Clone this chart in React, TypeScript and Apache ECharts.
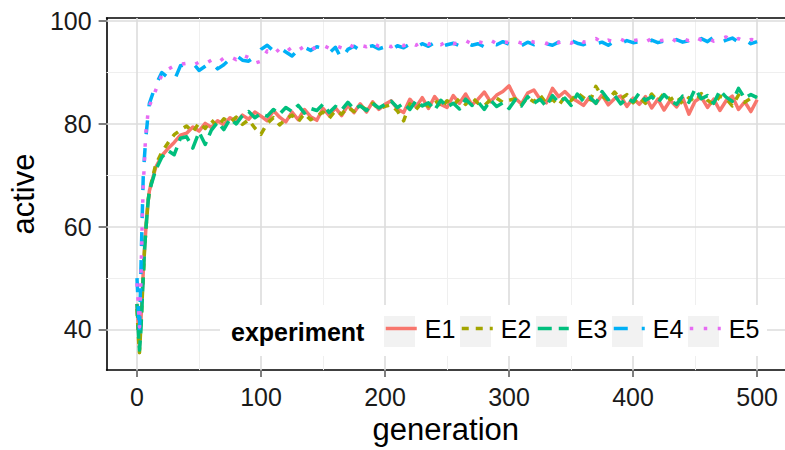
import React, { useEffect, useRef } from "react";
import * as echarts from "echarts";

// Generation index shared by every experiment (dense at the start, every 5 afterwards)
const generations = [
  0, 1, 2, 3, 4, 5, 6, 7, 8, 9, 10,
  15, 20, 25, 30, 35, 40, 45, 50, 55, 60, 65, 70, 75, 80, 85, 90, 95, 100,
  105, 110, 115, 120, 125, 130, 135, 140, 145, 150, 155, 160, 165, 170, 175, 180, 185, 190, 195, 200,
  205, 210, 215, 220, 225, 230, 235, 240, 245, 250, 255, 260, 265, 270, 275, 280, 285, 290, 295, 300,
  305, 310, 315, 320, 325, 330, 335, 340, 345, 350, 355, 360, 365, 370, 375, 380, 385, 390, 395, 400,
  405, 410, 415, 420, 425, 430, 435, 440, 445, 450, 455, 460, 465, 470, 475, 480, 485, 490, 495, 500,
];

const e1 = [
  45, 41, 36.5, 41, 46, 51, 55.5, 59, 62.5, 65, 67,
  71.5, 73.8, 75.2, 76.4, 77.8, 78.2, 79.4, 78.6, 80.1, 79.3, 80.6, 79.8, 81.2, 80.4, 81.7, 80.9, 82.3, 81.5,
  80.6, 82.6, 81.3, 80.4, 82.3, 80.8, 82.8, 81.4, 80.7, 83.0, 81.6, 83.1, 81.6, 83.6, 82.2, 83.9, 82.3, 84.3, 82.8, 83.8,
  84.5, 82.9, 82.2, 84.8, 83.3, 85.1, 83.0, 85.3, 83.8, 83.2, 85.5, 84.0, 85.8, 83.7, 84.8, 86.2, 84.3, 85.6, 86.3, 87.4,
  85.0, 83.9, 86.0, 86.6, 84.8, 84.1, 86.9, 85.3, 86.3, 85.1, 84.4, 83.6, 85.2, 84.0, 85.6, 83.7, 84.9, 85.4, 83.4, 85.0,
  83.8, 85.3, 83.1, 84.8, 82.7, 84.6, 83.3, 85.1, 81.9, 84.4, 85.2, 83.2, 84.8, 82.6, 84.5, 85.4, 82.8, 84.3, 82.4, 84.7,
];

const e2 = [
  44, 39, 35.5, 40, 45, 50, 55, 59, 62, 65, 67,
  72, 74.5, 76.3, 77.9, 78.8, 79.6, 78.4, 80.2, 79.1, 80.7, 79.5, 81.0, 80.3, 81.3, 79.9, 80.8, 79.2, 78.0,
  80.1, 81.2, 79.8, 80.9, 81.7, 80.4, 82.0, 80.8, 81.5, 82.3, 81.1, 82.6, 81.9, 83.2, 82.4, 83.5, 82.8, 84.0, 82.9, 83.4,
  83.7, 82.5, 80.6, 83.9, 82.8, 84.2, 83.4, 84.8, 83.1, 84.5, 83.6, 84.9, 83.8, 85.2, 84.0, 83.5, 84.7, 85.0, 84.2, 84.6,
  84.9, 83.7, 85.1, 84.3, 85.6, 84.0, 84.8, 83.6, 85.3, 84.5, 86.0, 85.1, 84.2, 87.3, 85.4, 84.6, 86.2, 84.9, 85.7, 84.1,
  85.2, 84.0, 85.8, 84.4, 86.0, 84.7, 85.5, 83.9, 85.1, 84.3, 85.9, 84.6, 83.8, 85.4, 84.9, 83.5, 85.6, 84.2, 85.0, 85.3,
];

const e3 = [
  45, 40, 36, 39, 44.5, 50, 55, 59, 62, 65, 67,
  71, 73.5, 74.8, 74.0, 77.2, 77.5, 75.3, 78.4, 76.0, 78.8, 80.3, 78.9, 81.0, 80.0, 81.6, 82.4, 81.2, 82.0,
  81.5, 82.8, 81.9, 83.2, 82.4, 83.6, 82.1, 83.0, 82.6, 83.8, 82.2, 83.4, 82.7, 84.2, 82.9, 83.5, 82.6, 84.0, 83.1, 83.8,
  84.4, 83.2, 84.0, 82.8, 84.5, 83.5, 84.1, 82.7, 84.6, 83.3, 84.0, 82.9, 84.8, 83.6, 84.3, 82.8, 84.6, 83.4, 84.1, 83.0,
  84.7, 83.5, 85.3, 84.0, 84.8, 83.4, 85.5, 84.2, 85.0, 83.6, 85.8, 84.4, 85.2, 84.0, 86.3, 84.7, 85.6, 83.9, 85.0, 84.3,
  86.0, 84.6, 85.3, 84.1, 85.7, 84.5, 83.8, 85.4, 84.2, 86.8, 84.9, 85.5, 84.0, 86.5, 85.2, 84.4, 86.9, 85.0, 85.7, 85.1,
];

const e4 = [
  50, 44.5, 39.5, 50, 60, 69.5, 73.5, 77, 79.5, 82, 84,
  87.5, 90.0, 89.0, 88.4, 91.3, 91.6, 91.9, 90.4, 91.2, 92.0, 90.7, 91.5, 92.6, 93.3, 92.4, 92.2, 93.1, 94.5,
  95.3, 94.2, 94.8, 94.0, 93.2, 94.4, 94.9, 94.3, 95.0, 94.7, 93.8, 94.9, 92.6, 94.5, 95.1, 94.3, 94.9, 95.2, 94.6, 95.0,
  94.4, 95.2, 94.8, 95.5, 94.9, 95.6, 95.1, 95.8, 95.0, 95.4, 95.7, 95.2, 95.9, 95.3, 95.6, 95.0, 95.8, 95.4, 96.0, 95.5,
  95.8, 95.2, 95.9, 95.4, 96.1, 95.6, 95.3, 95.9, 95.5, 96.2, 95.7, 95.4, 96.0, 95.6, 95.9, 95.3, 96.1, 95.7, 96.2, 95.8,
  96.0, 95.5, 96.3, 95.8, 96.1, 95.6, 96.4, 95.9, 96.2, 95.7, 96.6, 96.0, 96.9, 95.8, 96.3, 96.7, 95.9, 96.4, 95.6, 96.0,
];

const e5 = [
  49, 45, 40.5, 48, 59, 68, 72.5, 78, 80, 82.5, 83.5,
  86.5, 89.5, 90.6, 91.3, 91.6, 91.8, 91.4, 92.0, 91.7, 92.4, 91.9, 92.8, 93.1, 92.5, 93.4, 92.9, 91.8, 92.2,
  94.2, 93.5, 94.6, 94.0, 94.9, 94.3, 95.1, 94.5, 94.9, 95.3, 94.7, 95.2, 94.8, 95.6, 94.9, 95.3, 95.0, 95.7, 95.1, 95.4,
  95.0, 95.6, 95.2, 95.8, 95.3, 96.0, 95.5, 95.9, 95.4, 96.1, 95.6, 95.8, 96.2, 95.5, 96.0, 95.7, 96.3, 95.6, 96.0, 95.8,
  96.1, 95.7, 96.3, 95.9, 96.0, 95.6, 96.4, 95.8, 96.2, 95.7, 96.5, 95.9, 96.1, 96.6, 95.8, 96.3, 96.0, 96.5, 95.9, 96.2,
  96.4, 95.9, 96.6, 96.1, 96.3, 96.8, 96.0, 96.5, 96.2, 96.9, 96.3, 96.7, 96.1, 96.5, 96.9, 96.2, 96.6, 96.0, 96.4, 96.3,
];

const experimentNames = ["E1", "E2", "E3", "E4", "E5"];
const experimentValues = [e1, e2, e3, e4, e5];

const xTicks = [0, 100, 200, 300, 400, 500];
const xMinorTicks = [50, 150, 250, 350, 450];
const yTicks = [40, 60, 80, 100];
const yMinorTicks = [50, 70, 90];

const FONT = "Liberation Sans, Arial, Helvetica, sans-serif";
const COLORS = ["#F8766D", "#A3A500", "#00BF7D", "#00B0F6", "#E76BF3"];
const LINE_WIDTH = 3.5;
// solid, "22", "42", "44", "13" scaled by the line width
const DASHES: (string | number[])[] = ["solid", [7, 7], [14, 7], [14, 14], [3.5, 10.5]];

const MAJOR_GRID = "#dcdcdc";
const MINOR_GRID = "#efefef";

// legend key placement (left edge of each key box)
const LEGEND_KEY_X = [384, 460, 536, 612, 688];
const LEGEND_KEY_Y = 316;
const LEGEND_KEY_SIZE = 31;

export default function App() {
  const ref = useRef<HTMLDivElement>(null);

  useEffect(() => {
    document.body.style.margin = "0";
    if (!ref.current) return;
    const chart = echarts.init(ref.current, undefined, { renderer: "svg" });

    const gridLines = [
      ...xMinorTicks.map((v) => ({ xAxis: v, lineStyle: { color: MINOR_GRID, width: 1, type: "solid" } })),
      ...yMinorTicks.map((v) => ({ yAxis: v, lineStyle: { color: MINOR_GRID, width: 1, type: "solid" } })),
      ...xTicks.map((v) => ({ xAxis: v, lineStyle: { color: MAJOR_GRID, width: 1.6, type: "solid" } })),
      ...yTicks.map((v) => ({ yAxis: v, lineStyle: { color: MAJOR_GRID, width: 1.6, type: "solid" } })),
    ];

    const dataSeries = experimentNames.map((name, i) => ({
      name,
      type: "line",
      data: generations.map((g, k) => [g, experimentValues[i][k]]),
      symbol: "none",
      showSymbol: false,
      z: 2,
      itemStyle: { color: COLORS[i] },
      lineStyle: {
        color: COLORS[i],
        width: LINE_WIDTH,
        type: DASHES[i],
        cap: "butt",
        join: "round",
      },
      emphasis: { disabled: true },
    }));

    const legends = experimentNames.map((name, i) => ({
      data: [name],
      left: LEGEND_KEY_X[i],
      top: LEGEND_KEY_Y,
      padding: 0,
      itemWidth: LEGEND_KEY_SIZE,
      itemHeight: LEGEND_KEY_SIZE,
      selectedMode: false,
      z: 6,
      itemStyle: { opacity: 0 },
      lineStyle: { width: LINE_WIDTH },
      textStyle: { fontSize: 25, color: "#000", fontFamily: FONT, padding: [0, 0, 0, 3] },
    }));

    const keyBoxes = LEGEND_KEY_X.map((x) => ({
      type: "rect",
      z: 3,
      z2: 1,
      silent: true,
      shape: { x, y: LEGEND_KEY_Y, width: LEGEND_KEY_SIZE, height: LEGEND_KEY_SIZE },
      style: { fill: "#f2f2f2" },
    }));

    const option = {
      animation: false,
      textStyle: { fontFamily: FONT },
      grid: { left: 103, right: 0, top: 18, bottom: 76, containLabel: false },
      xAxis: [
        {
          type: "value",
          position: "bottom",
          min: -24.5,
          max: 522.5,
          name: "generation",
          nameLocation: "middle",
          nameGap: 38,
          nameTextStyle: { fontSize: 31, color: "#000", fontFamily: FONT },
          axisLine: { show: true, onZero: false, lineStyle: { color: "#000", width: 1.6 } },
          axisTick: { show: true, length: 7, customValues: xTicks, lineStyle: { color: "#7f7f7f", width: 2 } },
          axisLabel: { customValues: xTicks, fontSize: 25, color: "#1a1a1a", margin: 14, fontFamily: FONT },
          splitLine: { show: false },
        },
        {
          type: "value",
          position: "top",
          min: -24.5,
          max: 522.5,
          axisLine: { show: true, onZero: false, lineStyle: { color: "#000", width: 1.6 } },
          axisTick: { show: false },
          axisLabel: { show: false },
          splitLine: { show: false },
        },
      ],
      yAxis: {
        type: "value",
        min: 32.1,
        max: 100.6,
        name: "active",
        nameLocation: "middle",
        nameGap: 58,
        nameTextStyle: { fontSize: 31, color: "#000", fontFamily: FONT },
        axisLine: { show: true, onZero: false, lineStyle: { color: "#000", width: 1.6 } },
        axisTick: { show: true, length: 8, customValues: yTicks, lineStyle: { color: "#7f7f7f", width: 2 } },
        axisLabel: { customValues: yTicks, fontSize: 25, color: "#1a1a1a", margin: 15, fontFamily: FONT },
        splitLine: { show: false },
      },
      legend: legends,
      graphic: [
        {
          type: "rect",
          z: 3,
          z2: 0,
          silent: true,
          shape: { x: 220, y: 305, width: 547, height: 51 },
          style: { fill: "#ffffff" },
        },
        ...keyBoxes,
        {
          type: "text",
          z: 3,
          z2: 2,
          silent: true,
          x: 231,
          y: LEGEND_KEY_Y + LEGEND_KEY_SIZE / 2,
          style: {
            text: "experiment",
            fontSize: 25,
            fontWeight: "bold",
            fontFamily: FONT,
            fill: "#000",
            verticalAlign: "middle",
            align: "left",
          },
        },
      ],
      series: [
        {
          name: "grid",
          type: "line",
          data: [],
          silent: true,
          z: 1,
          markLine: {
            silent: true,
            z: 1,
            animation: false,
            symbol: ["none", "none"],
            label: { show: false },
            emphasis: { disabled: true },
            data: gridLines,
          },
        },
        ...dataSeries,
      ],
    };

    chart.setOption(option as any);
    return () => chart.dispose();
  }, []);

  return <div ref={ref} style={{ width: 785, height: 450 }} />;
}
